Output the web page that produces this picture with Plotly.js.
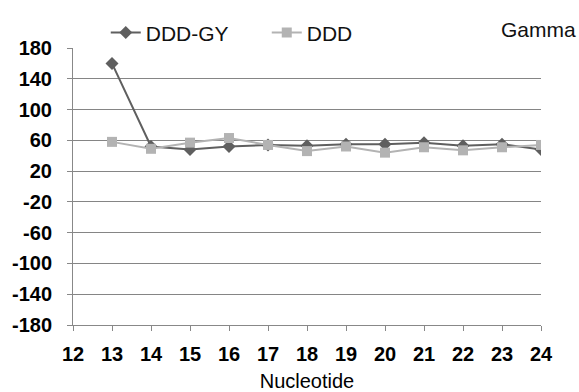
<!DOCTYPE html>
<html><head><meta charset="utf-8">
<script src="https://cdn.plot.ly/plotly-3.0.1.min.js"></script>
<style>body{margin:0;background:#fff}#c{width:579px;height:392px}</style>
</head><body><div id="c"></div>
<script>
var nucleotides = [13,14,15,16,17,18,19,20,21,22,23,24];
var dddGY = [160,52,48,52,54,53,55,55,57,53,55,48];
var ddd = [58,49,57,63,54,46,52,44,51,47,51,54];
var yTicks = [180,140,100,60,20,-20,-60,-100,-140,-180];
var xTicks = [12,13,14,15,16,17,18,19,20,21,22,23,24];

var FONT = 'Liberation Sans, Arial, sans-serif';
var traces = [
  {x: nucleotides, y: dddGY, name: 'DDD-GY', mode: 'lines+markers', type: 'scatter',
   line: {color: '#5f5f5f', width: 2}, marker: {symbol: 'diamond', size: 10, color: '#5f5f5f'}},
  {x: nucleotides, y: ddd, name: 'DDD', mode: 'lines+markers', type: 'scatter',
   line: {color: '#b3b3b3', width: 2}, marker: {symbol: 'square', size: 10, color: '#b3b3b3'}}
];
var layout = {
  width: 579, height: 392,
  margin: {l: 73, r: 38, t: 43, b: 67},
  paper_bgcolor: '#fff', plot_bgcolor: '#fff',
  font: {family: FONT, color: '#000'},
  showlegend: true,
  legend: {orientation: 'h', x: 0.07, y: 1.055, xanchor: 'left', yanchor: 'middle',
           bgcolor: 'rgba(0,0,0,0)',
           font: {size: 21, color: '#111'}, itemwidth: 30, entrywidth: 116},
  xaxis: {range: [12, 24], tickvals: xTicks, ticktext: xTicks.map(String),
          showgrid: false, zeroline: false, showline: true, linecolor: '#888', linewidth: 1,
          ticks: 'outside', ticklen: 5, tickcolor: '#888', ticklabelstandoff: 6,
          tickfont: {size: 20, family: FONT, weight: 'bold'},
          automargin: false,
          title: {text: 'Nucleotide', font: {size: 20}, standoff: 11}},
  yaxis: {range: [-180, 180], tickvals: yTicks, ticktext: yTicks.map(String),
          showgrid: true, gridcolor: '#858585', gridwidth: 1, zeroline: false,
          showline: true, linecolor: '#888', linewidth: 1,
          ticks: 'outside', ticklen: 5, tickcolor: '#888', ticklabelstandoff: 11,
          automargin: false,
          tickfont: {size: 20, family: FONT, weight: 'bold'}},
  annotations: [{text: 'Gamma', xref: 'paper', yref: 'paper', x: 1.078, y: 1.065,
                 xanchor: 'right', yanchor: 'middle', showarrow: false, font: {size: 21, color: '#111'}}]
};
Plotly.newPlot('c', traces, layout, {displayModeBar: false, staticPlot: true});
</script></body></html>
